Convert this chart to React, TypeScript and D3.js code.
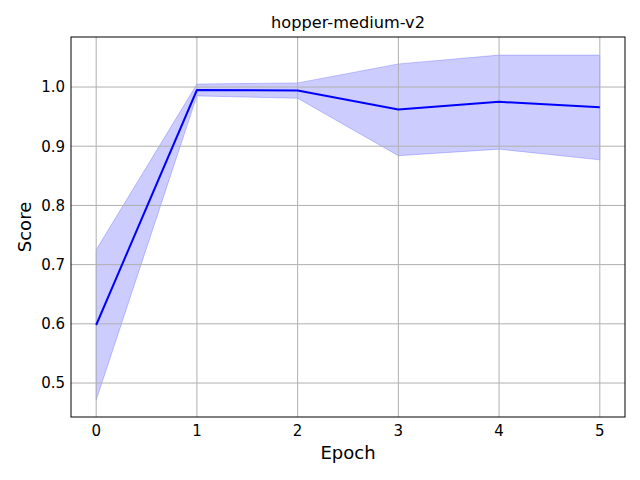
import { useEffect, useRef } from 'react';
import * as d3 from 'd3';

const epochs = [0, 1, 2, 3, 4, 5];
const meanScore = [0.598, 0.995, 0.994, 0.962, 0.975, 0.966];
const upperScore = [0.725, 1.005, 1.007, 1.039, 1.054, 1.054];
const lowerScore = [0.471, 0.985, 0.981, 0.884, 0.895, 0.877];
const xTicks = [0, 1, 2, 3, 4, 5];
const yTicks = [0.5, 0.6, 0.7, 0.8, 0.9, 1.0];

export default function App() {
  const svgRef = useRef<SVGSVGElement>(null);

  useEffect(() => {
    const svg = d3.select(svgRef.current);
    svg.selectAll('*').remove();

    const width = 640;
    const height = 480;
    const margin = { top: 37, right: 15, bottom: 63, left: 71 };
    const innerWidth = width - margin.left - margin.right;
    const innerHeight = height - margin.top - margin.bottom;
    const font = 'DejaVu Sans, sans-serif';

    const x = d3.scaleLinear().domain([-0.25, 5.25]).range([0, innerWidth]);
    const y = d3.scaleLinear().domain([0.4426, 1.0845]).range([innerHeight, 0]);

    const g = svg.append('g').attr('transform', `translate(${margin.left},${margin.top})`);

    const rows = epochs.map((e, i) => ({ e, m: meanScore[i], lo: lowerScore[i], hi: upperScore[i] }));

    const area = d3.area<typeof rows[0]>()
      .x(d => x(d.e))
      .y0(d => y(d.lo))
      .y1(d => y(d.hi));

    g.append('path')
      .datum(rows)
      .attr('d', area)
      .attr('fill', 'rgb(204,204,255)')
      .attr('stroke', 'rgba(0,0,255,0.2)')
      .attr('stroke-width', 1);

    // grid
    g.append('g')
      .selectAll('line')
      .data(xTicks)
      .join('line')
      .attr('x1', d => x(d)).attr('x2', d => x(d))
      .attr('y1', 0).attr('y2', innerHeight)
      .attr('stroke', '#b0b0b0').attr('stroke-width', 1);
    g.append('g')
      .selectAll('line')
      .data(yTicks)
      .join('line')
      .attr('x1', 0).attr('x2', innerWidth)
      .attr('y1', d => y(d)).attr('y2', d => y(d))
      .attr('stroke', '#b0b0b0').attr('stroke-width', 1);

    const line = d3.line<typeof rows[0]>().x(d => x(d.e)).y(d => y(d.m));
    g.append('path')
      .datum(rows)
      .attr('d', line)
      .attr('fill', 'none')
      .attr('stroke', '#0000ff')
      .attr('stroke-width', 2)
      .attr('stroke-linejoin', 'round');

    g.append('rect')
      .attr('width', innerWidth).attr('height', innerHeight)
      .attr('fill', 'none').attr('stroke', 'black').attr('stroke-width', 1);

    g.append('g')
      .selectAll('text')
      .data(xTicks)
      .join('text')
      .attr('x', d => x(d))
      .attr('y', innerHeight + 19)
      .attr('text-anchor', 'middle')
      .attr('font-family', font)
      .attr('font-size', 15)
      .text(d => d3.format('d')(d));

    g.append('g')
      .selectAll('text')
      .data(yTicks)
      .join('text')
      .attr('x', -6)
      .attr('y', d => y(d))
      .attr('dy', '0.36em')
      .attr('text-anchor', 'end')
      .attr('font-family', font)
      .attr('font-size', 15)
      .text(d => d3.format('.1f')(d));

    svg.append('text')
      .attr('x', margin.left + innerWidth / 2)
      .attr('y', 28)
      .attr('text-anchor', 'middle')
      .attr('font-family', font)
      .attr('font-size', 16.2)
      .text('hopper-medium-v2');

    svg.append('text')
      .attr('x', margin.left + innerWidth / 2)
      .attr('y', 459)
      .attr('text-anchor', 'middle')
      .attr('font-family', font)
      .attr('font-size', 18)
      .text('Epoch');

    svg.append('text')
      .attr('transform', `translate(31,${margin.top + innerHeight / 2}) rotate(-90)`)
      .attr('text-anchor', 'middle')
      .attr('font-family', font)
      .attr('font-size', 18)
      .text('Score');
  }, []);

  return (
    <svg
      ref={svgRef}
      width={640}
      height={480}
      style={{ position: 'absolute', left: 0, top: 0, background: 'white' }}
    />
  );
}
